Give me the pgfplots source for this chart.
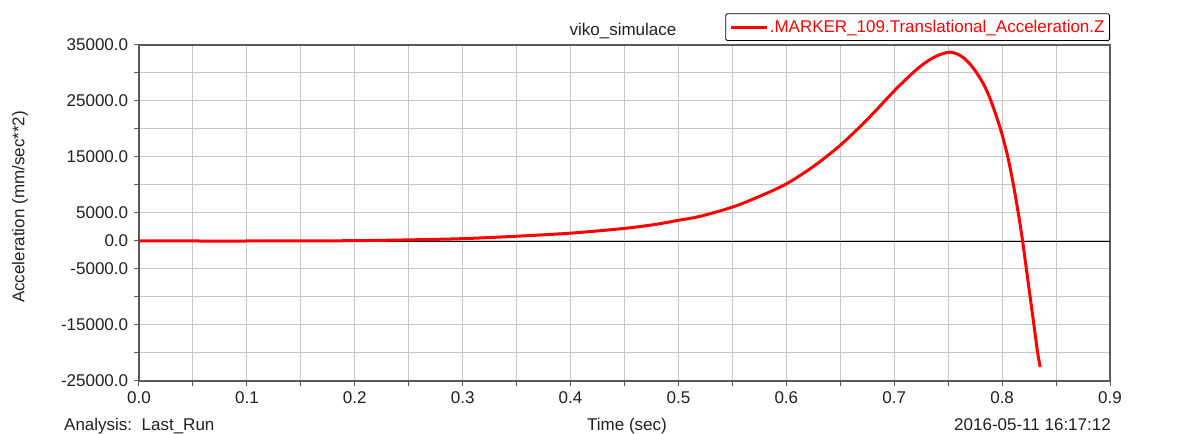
\documentclass[border=0pt]{standalone}
\usepackage{fontspec}
\setmainfont{Liberation Sans}
\usepackage{pgfplots}
\pgfplotsset{compat=1.18}
\definecolor{gridc}{HTML}{C8C8C8}
\definecolor{axc}{HTML}{5A5A5A}
\definecolor{txt}{HTML}{202020}
\definecolor{curve}{HTML}{FF0000}
\begin{document}
\fontsize{17}{20}\selectfont
\begin{tikzpicture}[x=1pt,y=1pt]
\useasboundingbox (0,0) rectangle (1195,434);
\begin{axis}[
  at={(139pt,53pt)}, anchor=south west,
  width=971pt, height=336pt, scale only axis,
  xmin=0, xmax=0.9, ymin=-25000, ymax=35000,
  xtick={0,0.1,0.2,0.3,0.4,0.5,0.6,0.7,0.8,0.9},
  minor xtick={0.05,0.15,0.25,0.35,0.45,0.55,0.65,0.75,0.85},
  ytick={-25000,-15000,-5000,0,5000,15000,25000,35000},
  minor ytick={-20000,-10000,10000,20000,30000},
  grid=both,
  major grid style={gridc, line width=1pt},
  minor grid style={gridc, line width=1pt},
  tick pos=left, tick align=outside,
  major tick length=5pt, minor tick length=5pt,
  every tick/.style={axc, line width=1pt},
  axis line style={axc, line width=1.3pt},
  scaled ticks=false,
  /pgf/number format/assume math mode=true,
  xticklabel style={/pgf/number format/.cd, fixed, fixed zerofill, precision=1},
  yticklabel style={/pgf/number format/.cd, fixed, fixed zerofill, precision=1, 1000 sep={}},
  ticklabel style={text=txt, font=\fontsize{17}{20}\selectfont},
  legend style={at={(1,1)}, anchor=south east, yshift=4pt, draw=black, line width=0.8pt,
    rounded corners=1.5pt, text=curve, font=\fontsize{17}{20}\selectfont,
    inner xsep=4pt, inner ysep=4pt, nodes={inner xsep=1pt}},
  legend image code/.code={\path (0pt,0pt) -- (36pt,0pt);
    \draw[curve, line width=2.2pt] (9pt,0pt) -- (36pt,0pt);},
  legend cell align=left,
]
\addplot[black, line width=0.9pt, forget plot] coordinates {(0,0) (0.9,0)};
\addplot[curve, line width=3pt, line join=round, smooth, tension=0.5] coordinates {
(0,0) (0.05,0) (0.10,0) (0.15,20) (0.20,60) (0.25,200) (0.30,420) (0.35,850)
(0.40,1400) (0.45,2250) (0.48,3000) (0.50,3700) (0.52,4400) (0.55,6050)
(0.575,7950) (0.60,10200) (0.625,13300) (0.65,17100) (0.675,21700)
(0.70,26800) (0.71,28700) (0.72,30500) (0.73,32000) (0.74,33100)
(0.75,33700) (0.755,33620) (0.76,33250) (0.765,32600) (0.77,31650)
(0.776,30150) (0.783,27950) (0.7895,25100) (0.7985,20000) (0.8053,15000)
(0.8105,10000) (0.8150,5000) (0.8190,0) (0.8225,-5000) (0.8260,-10000)
(0.8295,-15000) (0.8330,-20000) (0.8353,-22500)
};
\addlegendentry{.MARKER\_109.Translational\_Acceleration.Z}
\end{axis}
\node[anchor=base, text=txt] at (623,398) {viko\_simulace};
\node[rotate=90, text=txt] at (20,227) {Acceleration (mm/sec**2)};
\node[anchor=base, text=txt] at (627,3) {Time (sec)};
\node[anchor=base west, text=txt, inner sep=0pt] at (64,3) {Analysis:\ \ Last\_Run};
\node[anchor=base east, text=txt, inner sep=0pt] at (1111,3) {2016-05-11 16:17:12};
\end{tikzpicture}
\end{document}
